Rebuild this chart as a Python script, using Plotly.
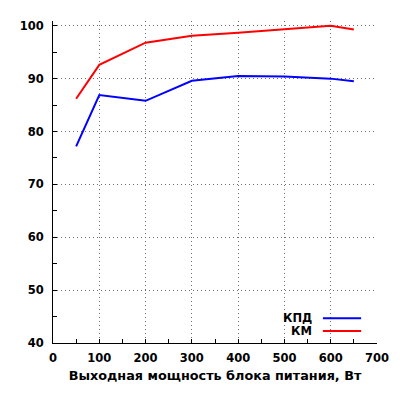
import plotly.graph_objects as go

power = [50, 100, 200, 300, 400, 500, 600, 650]
kpd = [77.2, 86.9, 85.8, 89.6, 90.5, 90.4, 90.0, 89.5]
km = [86.2, 92.6, 96.8, 98.1, 98.7, 99.3, 100.0, 99.3]
series_names = ["КПД", "КМ"]
series_colors = ["#0000ff", "#ff0000"]
x_ticks = [0, 100, 200, 300, 400, 500, 600, 700]
y_ticks = [40, 50, 60, 70, 80, 90, 100]
x_title = "Выходная мощность блока питания, Вт"

FONT = dict(family="DejaVu Sans", size=11.5, color="#000000", weight="bold")

fig = go.Figure()
for name, vals, col in zip(series_names, [kpd, km], series_colors):
    fig.add_trace(go.Scatter(x=power, y=vals, mode="lines", name=name,
                             line=dict(color=col, width=2), showlegend=False))

# custom legend (text left, sample right, like gnuplot)
leg_y = [0.077, 0.037]
for name, col, yy in zip(series_names, series_colors, leg_y):
    fig.add_annotation(x=0.806, y=yy, xref="paper", yref="paper", text=name,
                       showarrow=False, xanchor="right", yanchor="middle",
                       font=FONT)
    fig.add_shape(type="line", xref="paper", yref="paper",
                  x0=0.833, x1=0.951, y0=yy, y1=yy,
                  line=dict(color=col, width=2))

axis_common = dict(
    showline=True, linecolor="#000000", linewidth=1,
    ticks="inside", ticklen=4, tickcolor="#000000", tickwidth=1,
    showgrid=True, gridcolor="#707070", griddash="1px,3px", gridwidth=1,
    zeroline=False, tickfont=FONT,
    minor=dict(ticks="inside", ticklen=4, tickcolor="#000000", showgrid=False),
)

fig.update_xaxes(range=[0, 700], tickvals=x_ticks, minor_dtick=50, dtick=100,
                 ticklabelstandoff=4,
                 title=dict(text=x_title, font=dict(family="DejaVu Sans", size=12.8,
                                                    color="#000000", weight="bold"),
                            standoff=7),
                 **axis_common)
fig.update_yaxes(range=[40, 100.9], tickvals=y_ticks, minor_dtick=5, dtick=10,
                 ticklabelstandoff=6, **axis_common)

fig.update_layout(
    width=400, height=400,
    margin=dict(l=45, r=31, t=11, b=65),
    paper_bgcolor="#ffffff", plot_bgcolor="#ffffff",
    font=FONT,
)

fig.write_html("out.html")
